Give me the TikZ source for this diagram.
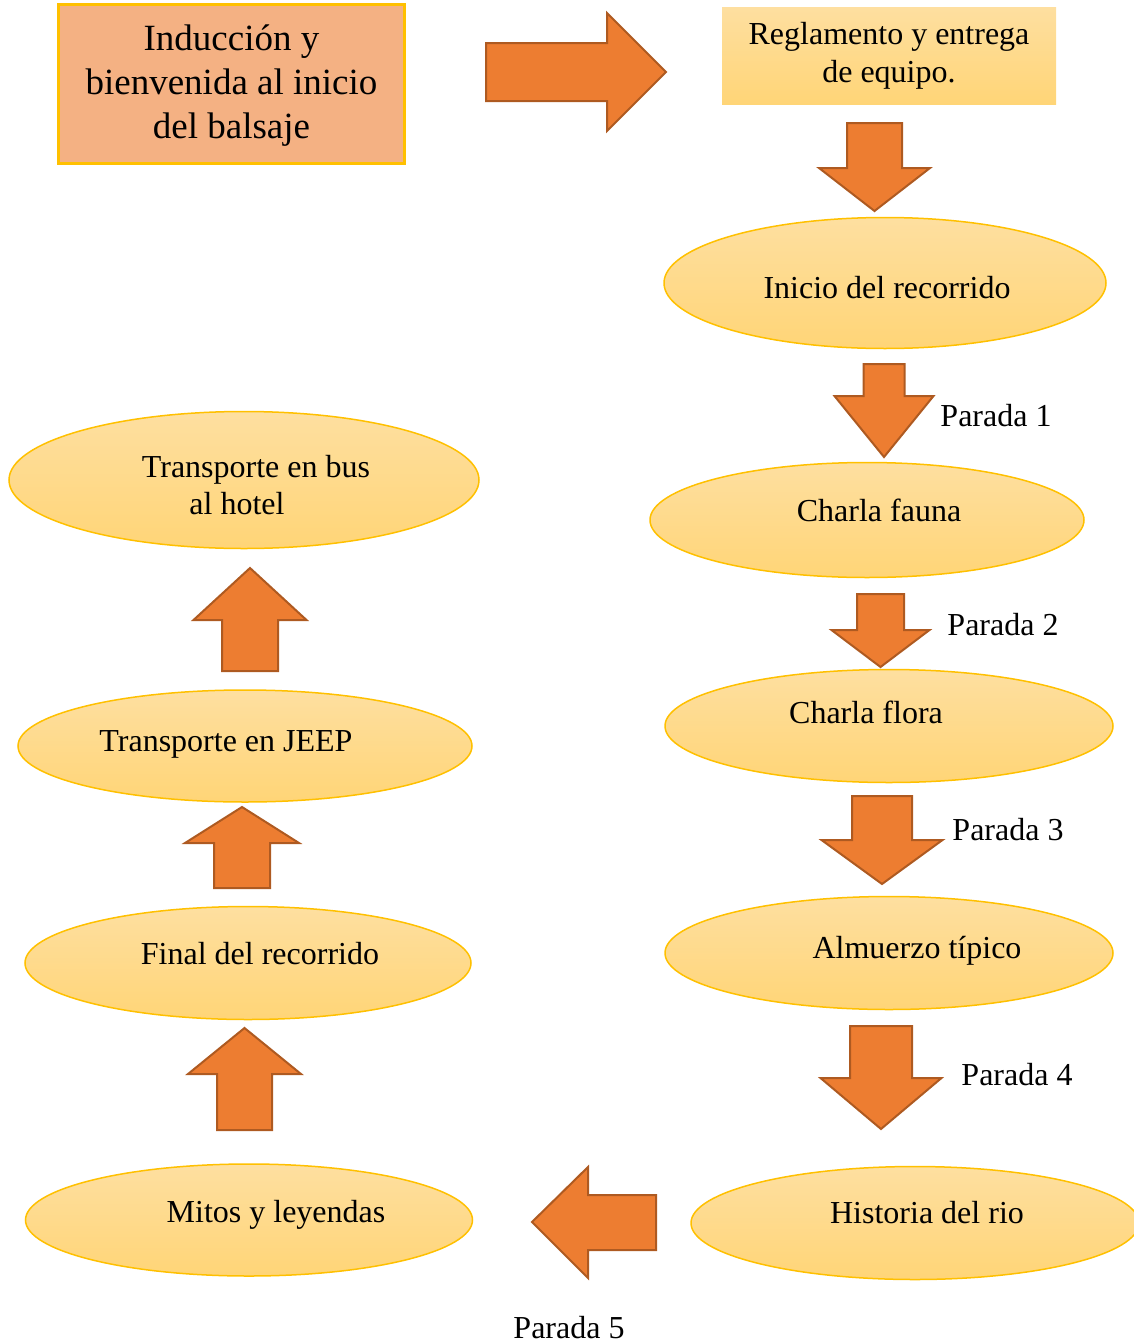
\documentclass[tikz,border=0pt]{standalone}
\usepackage{fontspec}
\setmainfont{Liberation Serif}
\usetikzlibrary{shapes.geometric}

\definecolor{flecha}{HTML}{ED7D31}
\definecolor{flechaborde}{HTML}{AE5A21}
\definecolor{oro}{HTML}{FFC000}
\definecolor{salmon}{HTML}{F4B183}
\definecolor{crema}{HTML}{FEDFA0}
\definecolor{crema2}{HTML}{FFD577}

% block arrow: centre x, half shaft, half head, shaft end, head base, tip
\newcommand{\flechav}[6]{%
  \draw[bloque] (#1-#2,#4) -- (#1-#2,#5) -- (#1-#3,#5) -- (#1,#6)
    -- (#1+#3,#5) -- (#1+#2,#5) -- (#1+#2,#4) -- cycle;}

\begin{document}
\begin{tikzpicture}[
    x=1pt, y=-1pt,
    txt/.style={font=\fontsize{32}{37}\selectfont, text=black, align=center},
    elipse/.style={ellipse, draw=oro, line width=1.5pt,
                   top color=crema, bottom color=crema2, inner sep=0pt},
    caja/.style={rectangle, inner sep=0pt, align=center},
    bloque/.style={fill=flecha, draw=flechaborde, line width=2pt, line join=miter},
]
\useasboundingbox (0,0) rectangle (1133,1344);

%% Top boxes
\node[caja, fill=salmon, draw=oro, line width=3pt, minimum width=346pt,
      minimum height=159pt] (induccion) at (231.5,84) {};
\node[txt, font=\fontsize{37}{44}\selectfont] (tinduccion) at (231.5,86)
    {Inducción y\\bienvenida al inicio\\del balsaje};
\node[caja, top color=crema, bottom color=crema2, minimum width=334pt,
      minimum height=97pt, txt, font=\fontsize{32}{38}\selectfont]
    (reglamento) at (889,55.5) {Reglamento y entrega\\de equipo.};

%% Right column
\node[elipse, minimum width=442pt, minimum height=131pt] (inicio) at (885,283)
    {}; \node[txt] (tinicio) at (887,288) {Inicio del recorrido};
\node[elipse, minimum width=434pt, minimum height=115pt] (fauna) at (867,520)
    {}; \node[txt] (tfauna) at (879,510) {Charla fauna};
\node[elipse, minimum width=448pt, minimum height=113pt] (flora) at (889,726)
    {}; \node[txt] (tflora) at (866,712) {Charla flora};
\node[elipse, minimum width=448pt, minimum height=113pt] (almuerzo) at (889,953)
    {}; \node[txt] (talmuerzo) at (917,951) {Almuerzo típico};
\node[elipse, minimum width=448pt, minimum height=113pt] (historia) at (915,1223)
    {}; \node[txt] (thistoria) at (927,1213) {Historia del rio};

%% Left column
\node[elipse, minimum width=447pt, minimum height=112pt] (mitos) at (249,1220)
    {}; \node[txt] (tmitos) at (276,1215) {Mitos y leyendas};
\node[elipse, minimum width=446pt, minimum height=113pt] (final) at (248,963)
    {}; \node[txt] (tfinal) at (260,954) {Final del recorrido};
\node[elipse, minimum width=454pt, minimum height=112pt] (jeep) at (245,746)
    {}; \node[txt] (tjeep) at (226,744) {Transporte en JEEP};
\node[elipse, minimum width=470pt, minimum height=137pt] (bus) at (244,480)
    {}; \node[txt] (tbus) at (256,485) {Transporte en bus\\al hotel\hspace*{38pt}};

%% Stop labels
\node[txt] (p1) at (996,416)  {Parada 1};
\node[txt] (p2) at (1003,625) {Parada 2};
\node[txt] (p3) at (1008,830) {Parada 3};
\node[txt] (p4) at (1017,1075) {Parada 4};
\node[txt] (p5) at (569,1328) {Parada 5};

%% Block arrows
\draw[bloque] (486,43) -- (607,43) -- (607,13) -- (666,72) -- (607,131)
    -- (607,101) -- (486,101) -- cycle;
\flechav{874.5}{27.5}{55.5}{123}{168}{211}
\flechav{884}{20.5}{49.5}{364}{396}{457}
\flechav{880.5}{23.5}{49}{594}{630}{667}
\flechav{882}{30}{60.5}{796}{840}{884}
\flechav{881}{31}{60.5}{1026}{1078}{1129}
\draw[bloque] (656,1195) -- (588,1195) -- (588,1167) -- (532,1222) -- (588,1278)
    -- (588,1250) -- (656,1250) -- cycle;
\flechav{244.5}{27.5}{56.5}{1130}{1074}{1028}
\flechav{242}{28}{57}{888}{843}{807}
\flechav{250}{28}{56.5}{671}{620}{568}
\end{tikzpicture}
\end{document}
